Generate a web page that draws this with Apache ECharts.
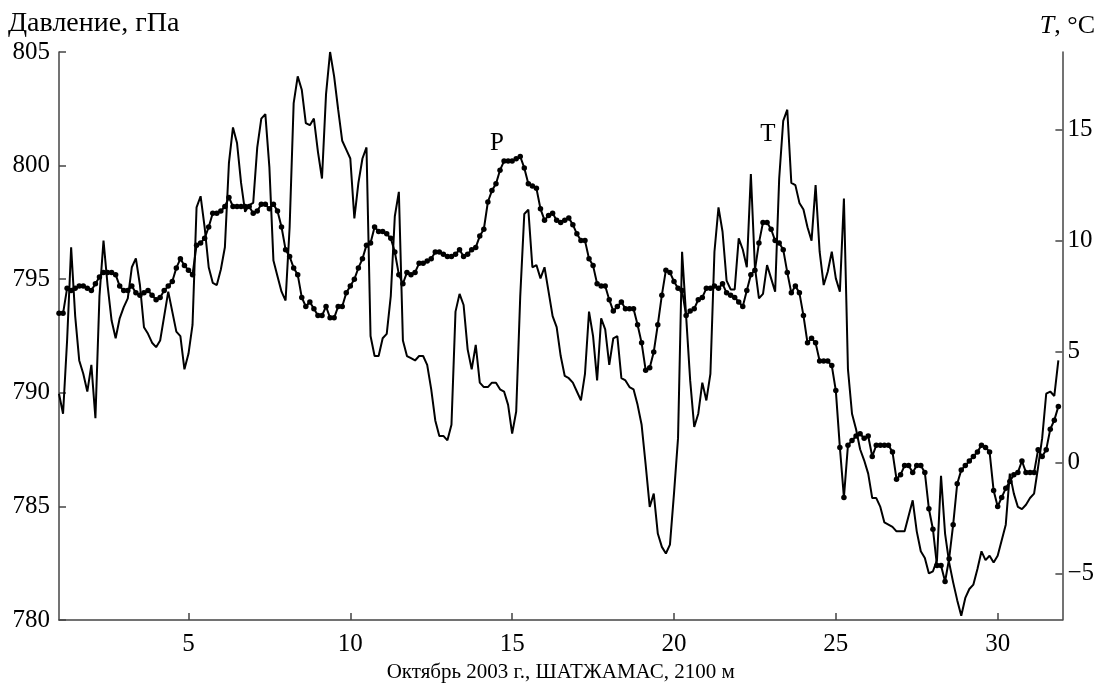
<!DOCTYPE html>
<html>
<head>
<meta charset="utf-8">
<script src="https://cdn.jsdelivr.net/npm/echarts@6/dist/echarts.min.js"></script>
<style>
html,body{margin:0;padding:0;background:#fff;}
#chart{width:1097px;height:688px;}
</style>
</head>
<body>
<div id="chart"></div>
<script>
// time grid: 3-hourly readings starting 1 October
const startDay = 1;
const stepDays = 0.125;

const pressure = [
793.5,793.5,794.6,794.5,794.6,794.7,794.7,794.6,794.5,794.8,
795.1,795.3,795.3,795.3,795.2,794.7,794.5,794.5,794.7,794.4,
794.3,794.4,794.5,794.3,794.1,794.2,794.5,794.7,794.9,795.5,
795.9,795.6,795.4,795.2,796.5,796.6,796.8,797.3,797.9,797.9,
798.0,798.2,798.6,798.2,798.2,798.2,798.2,798.2,797.9,798.0,
798.3,798.3,798.1,798.3,798.0,797.3,796.3,796.0,795.5,795.2,
794.2,793.8,794.0,793.7,793.4,793.4,793.8,793.3,793.3,793.8,
793.8,794.4,794.7,795.0,795.5,795.9,796.5,796.6,797.3,797.1,
797.1,797.0,796.8,796.2,795.2,794.8,795.3,795.2,795.3,795.7,
795.7,795.8,795.9,796.2,796.2,796.1,796.0,796.0,796.1,796.3,
796.0,796.1,796.3,796.4,796.9,797.2,798.4,798.9,799.2,799.8,
800.2,800.2,800.2,800.3,800.4,799.9,799.2,799.1,799.0,798.1,
797.6,797.8,797.9,797.6,797.5,797.6,797.7,797.4,797.0,796.7,
796.7,795.9,795.6,794.8,794.7,794.7,794.1,793.6,793.8,794.0,
793.7,793.7,793.7,793.0,792.2,791.0,791.1,791.8,793.0,794.3,
795.4,795.3,794.9,794.6,794.5,793.4,793.6,793.7,794.1,794.2,
794.6,794.6,794.7,794.6,794.8,794.4,794.3,794.2,794.0,793.8,
794.5,795.2,795.4,796.6,797.5,797.5,797.2,796.7,796.6,796.3,
795.3,794.4,794.7,794.4,793.4,792.2,792.4,792.2,791.4,791.4,
791.4,791.2,790.1,787.6,785.4,787.7,787.9,788.1,788.2,788.0,
788.1,787.2,787.7,787.7,787.7,787.7,787.4,786.2,786.4,786.8,
786.8,786.5,786.8,786.8,786.5,784.9,784.0,782.4,782.4,781.7,
782.7,784.2,786.0,786.6,786.8,787.0,787.2,787.4,787.7,787.6,
787.4,785.7,785.0,785.4,785.8,786.1,786.4,786.5,787.0,786.5,
786.5,786.5,787.5,787.2,787.5,788.4,788.8,789.4
];

const temperature = [
3.1,2.2,5.5,9.7,6.6,4.6,4.0,3.2,4.4,2.0,
7.5,10.0,8.0,6.4,5.6,6.5,7.0,7.4,8.8,9.2,
8.0,6.1,5.8,5.4,5.2,5.5,6.6,7.7,6.8,5.9,
5.7,4.2,4.9,6.2,11.5,12.0,10.6,8.8,8.1,8.0,
8.7,9.7,13.5,15.1,14.4,12.6,11.3,11.6,11.7,14.2,
15.5,15.7,13.3,9.1,8.4,7.7,7.3,10.6,16.2,17.4,
16.8,15.3,15.2,15.5,14.0,12.8,16.6,18.5,17.4,15.9,
14.5,14.1,13.7,11.0,12.6,13.7,14.2,5.7,4.8,4.8,
5.6,5.8,7.5,11.1,12.2,5.5,4.8,4.7,4.6,4.8,
4.8,4.4,3.3,1.9,1.2,1.2,1.0,1.7,6.8,7.6,
7.1,5.1,4.2,5.3,3.6,3.4,3.4,3.6,3.6,3.3,
3.2,2.6,1.3,2.3,7.5,11.2,11.4,8.8,8.9,8.3,
8.8,7.7,6.6,6.1,4.8,3.9,3.8,3.6,3.2,2.8,
4.0,6.8,5.7,3.7,6.5,6.0,4.4,5.6,5.7,3.8,
3.7,3.4,3.3,2.6,1.7,-0.1,-2.0,-1.4,-3.2,-3.8,
-4.1,-3.7,-1.4,1.1,9.5,6.6,3.7,1.6,2.2,3.6,
2.8,4.0,9.5,11.5,10.4,8.2,7.8,7.8,10.1,9.6,
8.8,13.0,8.8,7.4,7.6,8.9,8.3,7.7,12.8,15.4,
15.9,12.6,12.5,11.7,11.4,10.6,10.0,12.5,9.5,8.0,
8.6,9.5,8.3,7.7,11.9,4.2,2.2,1.5,0.6,0.1,
-0.5,-1.6,-1.6,-2.0,-2.7,-2.8,-2.9,-3.1,-3.1,-3.1,
-2.4,-1.7,-3.1,-4.0,-4.3,-5.0,-4.9,-4.4,-0.6,-3.2,
-4.5,-5.4,-6.2,-6.9,-6.1,-5.7,-5.5,-4.8,-4.0,-4.4,
-4.2,-4.5,-4.2,-3.5,-2.8,-0.5,-1.4,-2.0,-2.1,-1.9,
-1.6,-1.4,-0.2,1.1,3.1,3.2,3.0,4.6
];

const xTicks = [5, 10, 15, 20, 25, 30];
const tTicks = [-5, 0, 5, 10, 15];

const xTitle = 'Октябрь 2003 г., ШАТЖАМАС, 2100 м';
const pTitle = 'Давление, гПа';

const days = pressure.map((_, i) => startDay + i * stepDays);
const pData = days.map((d, i) => [d, pressure[i]]);
const tData = days.map((d, i) => [d, temperature[i]]);

const FONT = 'Liberation Serif';
const FS = 25;
const AX = '#444';

const chart = echarts.init(document.getElementById('chart'), null, {renderer: 'canvas'});
chart.setOption({
  animation: false,
  backgroundColor: '#fff',
  grid: {left: 59, right: 34, top: 52, bottom: 60, containLabel: false},
  xAxis: {
    type: 'value', min: 1, max: 32,
    axisLine: {show: true, onZero: false, lineStyle: {color: AX, width: 1.5}},
    axisTick: {show: true, inside: true, length: 7, customValues: xTicks, lineStyle: {color: AX, width: 1.5}},
    axisLabel: {customValues: xTicks, fontFamily: FONT, fontSize: FS, color: '#000', margin: 12},
    splitLine: {show: false},
    name: xTitle, nameLocation: 'middle', nameGap: 38,
    nameTextStyle: {fontFamily: FONT, fontSize: 21, color: '#000'}
  },
  yAxis: [{
    type: 'value', min: 780, max: 805, interval: 5, position: 'left',
    axisLine: {show: true, onZero: false, lineStyle: {color: AX, width: 1.5}},
    axisTick: {show: true, inside: true, length: 7, lineStyle: {color: AX, width: 1.5}},
    axisLabel: {fontFamily: FONT, fontSize: FS, color: '#000', margin: 9},
    splitLine: {show: false}
  }, {
    type: 'value', min: -7.1, max: 18.5, position: 'right',
    axisLine: {show: true, onZero: false, lineStyle: {color: AX, width: 1.5}},
    axisTick: {show: true, inside: true, length: 7, customValues: tTicks, lineStyle: {color: AX, width: 1.5}},
    axisLabel: {customValues: tTicks, fontFamily: FONT, fontSize: FS, color: '#000', margin: 5,
      formatter: v => String(v).replace('-', '\u2212')},
    splitLine: {show: false}
  }],
  graphic: [
    {type: 'text', left: 8, top: 10, style: {text: pTitle, font: '28px "' + FONT + '"', fill: '#000'}},
    {type: 'text', right: 2, top: 13, style: {
      text: '{i|T}, °C', font: '26px "' + FONT + '"', fill: '#000',
      rich: {i: {fontStyle: 'italic', fontFamily: FONT, fontSize: 26}}
    }},
    {type: 'text', x: 497, y: 143, style: {text: 'P', font: FS + 'px "' + FONT + '"', fill: '#000', align: 'center', verticalAlign: 'middle'}},
    {type: 'text', x: 768, y: 134, style: {text: 'T', font: FS + 'px "' + FONT + '"', fill: '#000', align: 'center', verticalAlign: 'middle'}}
  ],
  series: [{
    name: 'P', type: 'line', yAxisIndex: 0, data: pData,
    symbol: 'circle', symbolSize: 5.5, showSymbol: true,
    lineStyle: {color: '#000', width: 2}, itemStyle: {color: '#000'},
    emphasis: {disabled: true}
  }, {
    name: 'T', type: 'line', yAxisIndex: 1, data: tData,
    showSymbol: false, symbol: 'none',
    lineStyle: {color: '#000', width: 2},
    emphasis: {disabled: true}
  }]
});
</script>
</body>
</html>
